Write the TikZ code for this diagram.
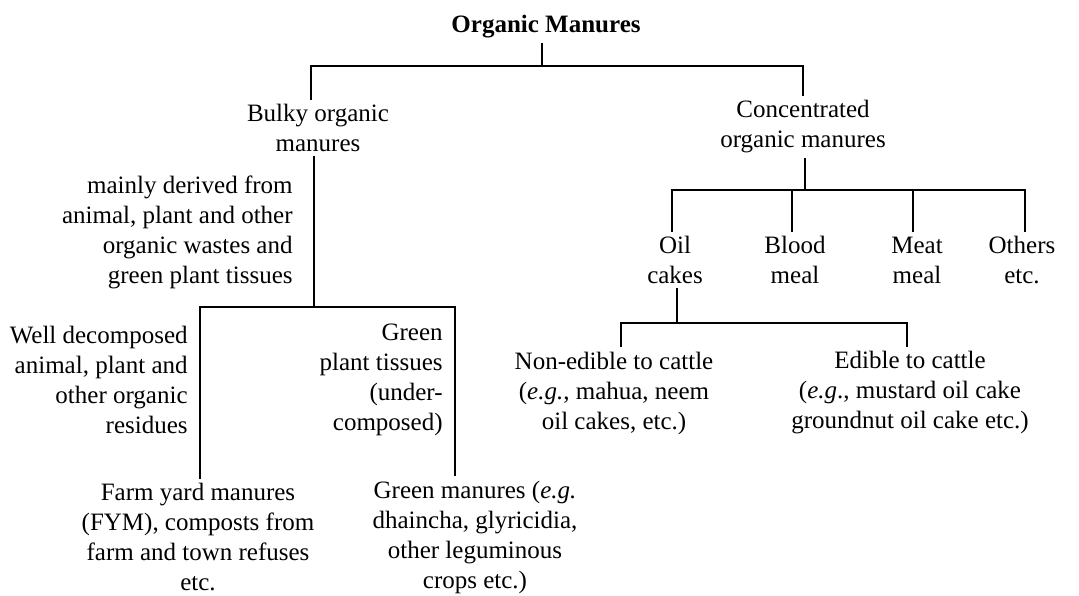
\documentclass[tikz,border=0pt]{standalone}
\usepackage{fontspec}
\setmainfont{Liberation Serif}
\usepackage{tikz}
\usetikzlibrary{positioning,calc}

\begin{document}
\begin{tikzpicture}[
  x=0.5pt,y=-0.5pt,
  label/.style={font=\fontsize{12.5}{15}\selectfont,inner sep=2pt,align=center},
  side/.style={label,align=right,anchor=east},
  link/.style={draw,line width=0.7pt}
]
\useasboundingbox (0,0) rectangle (1079,595);
% top level
\node[label,font=\fontsize{12.5}{15}\selectfont\bfseries] (root) at (546,27) {Organic Manures};
\node[label] (bulky) at (318,128) {Bulky organic\\manures};
\node[label] (conc) at (803,127) {Concentrated\\organic manures};
\coordinate (rootbar) at (542,66);
\draw[link] (rootbar |- root.south) -- (rootbar);
\draw[link] ([xshift=-3.5pt]bulky.north) |- (rootbar) -| (conc.north);
% bulky branch
\node[side] (derived) at (297,232) {mainly derived from\\animal, plant and other\\organic wastes and\\green plant tissues};
\node[side] (well) at (192,380) {Well decomposed\\animal, plant and\\other organic\\residues};
\node[side] (tissues) at (447,380) {Green\\plant tissues\\(under-\\composed)};
\node[label] (fym) at (198,537) {Farm yard manures\\(FYM), composts from\\farm and town refuses\\etc.};
\node[label] (greenman) at (475,537) {Green manures (\textit{e.g.}\\dhaincha, glyricidia,\\other leguminous\\crops etc.)};
\coordinate (bulkybar) at (314,307);
\draw[link] ([xshift=-2pt]bulky.south) -- (bulkybar);
\draw[link] ([xshift=1pt]fym.north) |- (bulkybar) -| ([xshift=-10pt]greenman.north);
% concentrated branch
\node[label] (oil) at (675,260) {Oil\\cakes};
\node[label] (blood) at (795,260) {Blood\\meal};
\node[label] (meat) at (917,260) {Meat\\meal};
\node[label] (others) at (1022,260) {Others\\etc.};
\coordinate (concbar) at (805,190);
\draw[link] (concbar |- conc.south) -- (concbar);
\draw[link] ([xshift=-1.5pt]oil.north) |- (concbar) -| ([xshift=1.5pt]others.north);
\draw[link] ([xshift=-1.5pt]blood.north) -- ([xshift=-1.5pt]blood.north |- concbar);
\draw[link] ([xshift=-2pt]meat.north) -- ([xshift=-2pt]meat.north |- concbar);
% oil cakes branch
\node[label] (nonedible) at (614,393) {Non-edible to cattle\\(\textit{e.g.}, mahua, neem\\oil cakes, etc.)};
\node[label] (edible) at (910,393) {Edible to cattle\\(\textit{e.g}., mustard oil cake\\groundnut oil cake etc.)};
\coordinate (oilbar) at (677,323);
\draw[link] (oilbar |- oil.south) -- (oilbar);
\draw[link] ([xshift=3.5pt]nonedible.north) |- (oilbar) -| ([xshift=-1.5pt]edible.north);
\end{tikzpicture}
\end{document}
